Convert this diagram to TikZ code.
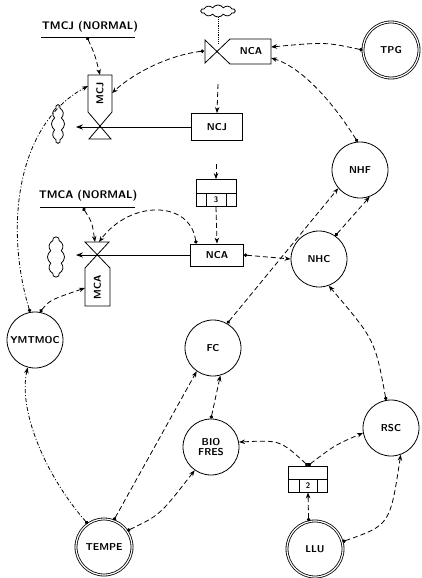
\documentclass[tikz,border=0pt]{standalone}
\usetikzlibrary{arrows.meta,shapes.symbols}

\begin{document}
\begin{tikzpicture}[x=1pt,y=-1pt,
  aux/.style={circle,draw,thick,minimum size=56pt,inner sep=0pt,font=\sffamily\bfseries,align=center},
  exo/.style={aux,double,double distance=1.2pt},
  rbox/.style={rectangle,draw,thick,inner sep=0pt,font=\sffamily\bfseries},
  lbl/.style={font=\sffamily\bfseries,inner sep=0pt},
  infl/.style={thick,dash pattern=on 5pt off 3pt,{Circle[length=3.5pt]}-{Stealth[length=6pt]}},
  inflx/.style={infl,dash pattern=on 4pt off 2pt on 1pt off 2pt},
  flow/.style={thick,-{Stealth[length=7pt]},shorten >=10pt},
  sky/.style={cloud,draw,thick,cloud puffs=10,cloud puff arc=110,inner sep=0pt}]

  \useasboundingbox (0,0) rectangle (422,578);

% auxiliaries and exogenous inputs
  \node[exo] (tpg)    at (391,50)  {TPG};
  \node[aux] (nhf)    at (360,170) {NHF};
  \node[aux] (nhc)    at (319,259) {NHC};
  \node[aux] (fc)     at (213,348) {FC};
  \node[aux] (ymtmoc) at (35,340)  {YMTMOC};
  \node[aux] (bio)    at (211,447) {BIO\\[-2pt]FRES};
  \node[aux] (rsc)    at (391,428) {RSC};
  \node[exo] (tempe)  at (104,547) {TEMPE};
  \node[exo] (llu)    at (315,549) {LLU};

% boxes
  \node[rbox,minimum width=51pt,minimum height=27pt] (ncj)  at (217,127) {NCJ};
  \node[rbox,minimum width=53pt,minimum height=22pt] (ncam) at (217,255) {NCA};
  \node[rbox,minimum width=40pt,minimum height=27pt] (dly3) at (216,193) {};
  \node[rbox,minimum width=39pt,minimum height=26pt] (dly2) at (308,479) {};
  \draw[thick] (dly3.west) -- (dly3.east) (206,193) -- (206,206.5) (226,193) -- (226,206.5);
  \draw[thick] (dly2.west) -- (dly2.east) (299,479) -- (299,492) (317,479) -- (317,492);
  \node[lbl,font=\sffamily\bfseries\footnotesize] (n3) at (216,200) {3};
  \node[lbl,font=\sffamily\bfseries\footnotesize] (n2) at (308,486) {2};

% levels with their valves
  \draw[thick] (230,39) -- (271,39) -- (271,64) -- (230,64) -- (205,40) -- (205,63) -- cycle;
  \node[lbl] (ncat) at (251,51.5) {NCA};
  \draw[thick] (88,75) -- (112,75) -- (112,112) -- (89,139) -- (111,139) -- (88,112) -- cycle;
  \node[lbl,rotate=90] (mcj) at (100,93) {MCJ};
  \draw[thick] (85,242) -- (109,242) -- (85,268) -- (85,306) -- (110,306) -- (110,268) -- cycle;
  \node[lbl,rotate=90] (mca) at (97.5,287) {MCA};

% sources and sinks
  \node[sky,minimum width=34pt,minimum height=12pt,aspect=3]            (skyt) at (218,11)  {};
  \node[sky,minimum width=38pt,minimum height=13pt,aspect=2.8,rotate=90] (skyj) at (58,124) {};
  \node[sky,minimum width=40pt,minimum height=17pt,aspect=2.4,rotate=90] (skya) at (56,257) {};
  \draw[thick,densely dotted] (skyt.south) -- (218,44);
  \draw[flow] (ncj.west)  -- (66,127);
  \draw[flow] (ncam.west) -- (66,255);

% normal values
  \node[lbl,font=\fontsize{11}{12}\sffamily\bfseries] (tmcj) at (90,27)  {TMCJ (NORMAL)};
  \node[lbl,font=\fontsize{11}{12}\sffamily\bfseries] (tmca) at (88,196) {TMCA (NORMAL)};
  \draw[thick] (41,37) -- (135,37);
  \draw[thick] (40,207) -- (135,207);

% end points on levels and valves
  \coordinate (tmcjdot) at (87,37);
  \coordinate (tmcadot) at (83,208);
  \coordinate (mcjtop)  at (100,75);
  \coordinate (mcjtl)   at (88,86);
  \coordinate (mcjrt)   at (112,93);
  \coordinate (ncadot)  at (204,51);
  \coordinate (ncart)   at (271,47);
  \coordinate (ncarb)   at (271,58);
  \coordinate (mcavl)   at (95,242);
  \coordinate (mcavr)   at (99,242);
  \coordinate (mcalt)   at (85,288);
  \coordinate (ncjsrc)  at (218,84);
  \coordinate (dlysrc)  at (216,164);

% influences
  \draw[infl] (tmcjdot) .. controls (95,55) .. (mcjtop);
  \draw[infl] (ncadot) .. controls (170,55) and (135,72) .. (mcjrt);
  \draw[inflx] (ymtmoc.100) .. controls (5,230) and (15,125) .. (mcjtl);
  \draw[infl] (tmcadot) .. controls (92,222) .. (mcavl);
  \draw[infl] (ncam.north west) ++(6,0) .. controls (190,200) and (130,200) .. (mcavr);
  \draw[infl] (ymtmoc.80) .. controls (50,300) .. (mcalt);
  \draw[inflx] (tempe.125) .. controls (45,475) and (18,410) .. (ymtmoc.255);
  \draw[infl] (tempe.70) -- (fc.235);
  \draw[infl] (tempe.35) .. controls (160,515) .. (bio.235);
  \draw[infl] (bio.north) -- (fc.285);
  \draw[infl] (fc.60) -- (nhf.220);
  \draw[infl] (ncam.east) -- (nhc.west);
  \draw[infl] (nhc.55) -- (nhf.290);
  \draw[infl] (rsc.100) .. controls (375,340) .. (nhc.290);
  \draw[infl] (nhf.95) .. controls (325,90) and (295,65) .. (ncarb);
  \draw[infl] (tpg.west) .. controls (325,42) .. (ncart);
  \draw[infl] (dly2.north) .. controls (280,440) .. (bio.10);
  \draw[infl] (dly2.north) .. controls (335,445) .. (rsc.190);
  \draw[infl] (llu.103) -- (dly2.south);
  \draw[infl] (llu.15) .. controls (390,525) .. (rsc.290);
  \draw[thick,dash pattern=on 5pt off 3pt,-{Stealth[length=6pt]}] (ncjsrc) -- (ncj.north);
  \draw[thick,dash pattern=on 5pt off 3pt,-{Stealth[length=6pt]}] (dlysrc) -- (dly3.north);
  \draw[thick,dash pattern=on 5pt off 3pt,-{Stealth[length=6pt]}] (dly3.south) -- (ncam.north);

\end{tikzpicture}
\end{document}
